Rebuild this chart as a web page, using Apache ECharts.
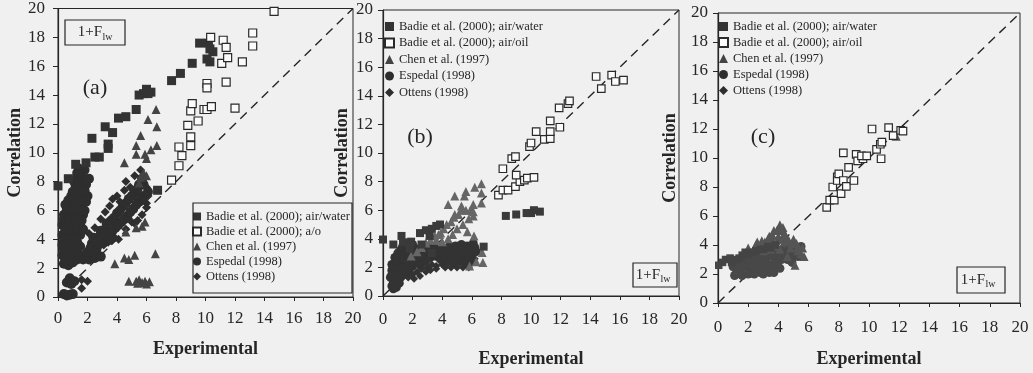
<!DOCTYPE html>
<html><head><meta charset="utf-8">
<script src="https://cdn.jsdelivr.net/npm/echarts@6/dist/echarts.min.js"></script>
<style>html,body{margin:0;padding:0;background:#f0f0f0}#c{width:1033px;height:373px}</style>
</head><body><div id="c"></div>
<script>
// ---------- axis / labels ----------
const axisMin = 0, axisMax = 20, tickStep = 2;
const xTitle = 'Experimental';
const yTitle = 'Correlation';
const panelLabels = ['(a)', '(b)', '(c)'];
const boxMain = '1+F', boxSub = 'lw';

// ---------- series names ----------
const nAW = 'Badie et al. (2000); air/water';
const nAOa = 'Badie et al. (2000); a/o';
const nAO = 'Badie et al. (2000); air/oil';
const nChen = 'Chen et al. (1997)';
const nEsp = 'Espedal (1998)';
const nOtt = 'Ottens (1998)';

// ---------- panel (a) ----------
const aBadieAW = [[0.0,7.7],[0.7,8.2],[1.2,9.2],[1.9,9.3],[2.3,11.0],[2.5,9.7],[2.8,9.7],[3.2,11.8],[3.4,10.6],[3.4,10.3],[3.7,11.4],[4.1,12.4],[4.6,12.5],[5.3,13.0],[5.5,14.0],[5.8,14.1],[6.0,14.4],[6.3,14.2],[6.1,14.1],[6.75,7.4],[7.7,15.0],[8.3,15.5],[9.1,16.2],[9.6,17.6],[10.2,17.6],[10.3,17.2],[10.1,16.5],[10.5,17.0],[10.3,16.3]];
const aBadieAO = [[7.7,8.1],[8.2,9.1],[8.4,9.8],[8.2,10.4],[8.8,11.9],[9.0,10.5],[9.0,11.1],[9.0,12.9],[9.1,13.4],[9.5,12.2],[9.9,13.0],[10.1,13.0],[10.1,14.8],[10.1,14.5],[10.4,13.2],[11.1,16.2],[10.35,18.0],[11.2,17.8],[11.4,17.3],[11.5,16.6],[11.4,14.9],[12.0,13.1],[12.5,16.3],[13.2,18.3],[13.2,17.4],[14.65,19.8]];
const aChen = [[4.5,9.3],[5.3,9.9],[5.3,10.5],[5.6,11.2],[6.1,12.3],[6.65,13.0],[6.7,11.8],[6.7,10.5],[6.3,10.2],[5.9,9.9],[6.0,9.6],[3.85,2.3],[4.5,2.7],[4.8,2.6],[5.2,2.9],[6.6,3.0],[4.8,1.1],[5.3,1.1],[5.5,1.2],[5.7,1.0],[5.9,1.1],[6.2,1.05],[5.4,0.95],[6.0,0.9],[4.6,4.5],[5.3,4.8],[5.7,4.9],[5.9,5.2],[5.6,8.3],[5.8,8.6],[5.5,7.9],[6.0,8.4]];
const aEspedal = [[0.4,0.2],[0.6,0.1],[0.8,0.15],[1.0,0.2],[0.6,1.0],[0.8,1.3],[0.9,0.9],[1.1,1.1],
  [0.4,2.3],[0.7,2.2],[1.0,2.4],[1.3,2.6],[1.7,2.6],[2.1,2.6],[2.5,2.7],[2.9,2.8],
  [0.3,2.9],[0.6,3.0],[0.9,3.1],[1.2,3.1],[0.3,3.6],[0.6,3.7],[1.0,3.6],[1.3,3.8],
  [0.3,4.3],[0.6,4.4],[0.9,4.3],[1.2,4.5],[1.5,4.3],[0.3,5.0],[0.6,5.1],[0.9,5.0],[1.2,5.2],[1.5,5.0],
  [0.4,5.7],[0.7,5.8],[1.0,5.6],[1.3,5.9],[1.7,5.7],[0.5,6.4],[0.9,6.3],[1.2,6.5],[1.6,6.4],
  [0.9,7.0],[1.2,7.1],[1.6,7.0],[2.0,7.0],[1.2,7.7],[1.5,7.7],[1.9,7.8],[1.3,8.3],[1.6,8.4],[2.1,8.2],[1.4,8.9],[1.8,8.8],
  [0.5,2.6],[0.8,2.7],[1.1,2.8],[1.5,2.9],[0.4,3.3],[0.8,3.4],[1.1,3.3],[1.5,3.5],[0.4,3.9],[0.8,4.0],[1.2,4.1],
  [0.5,4.7],[0.9,4.7],[1.3,4.8],[1.7,4.7],[0.4,5.4],[0.8,5.4],[1.2,5.4],[1.6,5.3],[0.6,6.1],[1.0,6.0],[1.4,6.1],[1.8,6.0],
  [0.7,6.7],[1.1,6.7],[1.5,6.7],[1.9,6.6],[1.0,7.3],[1.4,7.4],[1.8,7.4],[1.1,8.0],[1.5,8.0],[1.9,8.1],[1.5,8.6],[1.3,8.6],
  [2.0,3.1],[2.3,3.7],[2.6,3.3],[2.8,4.2],[3.1,3.8],[3.2,4.7],[3.5,4.4],[3.6,5.3],[3.9,4.8],[4.0,5.8],[4.3,5.2],[4.4,6.3],[4.7,5.6],[4.8,6.8],[5.1,6.1],[5.2,7.3],[5.5,6.6],[5.5,7.8],[5.8,7.0],[5.7,8.2],
  [2.2,3.4],[2.4,4.1],[2.7,3.7],[2.9,4.6],[3.0,4.2],[3.3,5.1],[3.4,4.0],[3.7,4.6],[3.8,5.5],[4.1,5.0],[4.2,6.0],[4.5,5.4],[4.6,6.5],[4.9,5.9],[5.0,7.0],[5.3,6.4],[5.4,7.5],[5.7,6.8],[5.8,7.8],[6.1,7.3]];
const aOttens = [[2.1,4.4],[2.5,4.8],[2.9,5.4],[3.2,5.9],[3.5,6.3],[3.7,6.8],[4.0,7.0],[4.2,6.6],[4.5,7.4],[4.6,8.0],[4.9,7.6],[5.2,8.4],[5.6,8.8],[6.0,7.6],[6.1,7.0],[6.0,6.5],
  [1.6,1.2],[1.6,0.6],[2.0,1.1],[2.4,3.1],[2.6,3.3],[2.8,3.5],[3.1,3.6],[3.4,3.8],[3.6,3.9],[3.85,4.1],[4.1,4.0],[4.6,4.7],[5.0,5.2],[5.2,5.1],[5.4,5.3],[5.7,5.7],[6.0,6.2],[5.8,6.7],[5.5,7.0]];

// ---------- panel (b) ----------
const bBadieAW = [[0.0,3.95],[0.7,3.6],[1.25,4.2],[1.35,3.75],[1.9,3.8],[1.8,3.3],[2.5,4.4],[2.9,4.6],[3.3,4.7],[3.6,4.9],[3.85,5.0],[3.15,4.2],[2.6,3.6],[3.3,3.0],[6.8,3.45],[8.3,5.6],[9.0,5.7],[9.7,5.8],[10.2,6.0],[10.6,5.9],[10.0,5.8]];
const bBadieAO = [[7.8,7.05],[8.1,7.4],[8.45,7.4],[8.95,7.65],[9.25,8.0],[9.55,8.1],[9.75,8.25],[10.2,8.3],[9.0,8.45],[8.1,8.9],[8.7,9.6],[8.95,9.75],[9.9,10.45],[10.0,10.7],[10.35,11.5],[10.9,10.95],[11.3,11.0],[11.3,11.5],[11.3,12.25],[11.95,11.8],[11.9,13.15],[12.5,13.45],[12.6,13.65],[14.4,15.35],[14.75,14.5],[15.45,15.45],[15.7,15.0],[16.25,15.1]];
const bChen = [[4.4,6.4],[4.85,7.0],[5.5,7.0],[5.6,7.3],[6.2,7.6],[6.65,7.85],[6.65,7.2],[6.65,6.5],[6.1,6.4],[4.85,5.7],[5.3,6.3],[5.6,6.0],[5.9,6.0],[6.1,5.6],[5.7,4.5],[6.15,4.2],[6.7,3.05],[6.75,2.35],[6.3,2.4],[5.85,2.1],[3.75,4.3],[3.6,3.9],
  [1.9,2.8],[2.3,3.1],[2.6,3.4],[2.9,3.7],[3.2,3.9],[3.5,4.2],[3.9,4.4],[4.1,4.7],[4.3,5.0],[4.6,5.2],[4.8,5.5],[5.1,5.7],[5.3,6.0],[4.0,3.8],[4.4,4.0],[4.7,4.3],[5.0,4.7],[5.4,5.0],[5.8,5.4],[6.1,5.9]];
const bEspedal = [[0.6,0.7],[0.9,0.6],[0.7,1.0],[1.1,0.9],[0.5,1.3],[0.8,1.4],[1.2,1.3],[0.6,1.8],[0.9,1.9],[1.3,1.8],[1.6,1.7],[0.6,2.2],[1.0,2.3],[1.3,2.4],[1.7,2.2],[2.0,2.1],[0.8,2.7],[1.1,2.8],[1.5,2.7],[1.9,2.6],[2.3,2.4],[1.2,3.2],[1.6,3.1],[2.0,3.0],[1.5,3.6],[1.9,3.5],[2.2,3.3],
  [0.7,0.5],[1.0,1.1],[0.6,1.5],[1.0,1.6],[1.4,1.5],[0.8,2.0],[1.2,2.0],[1.5,2.0],[1.8,1.9],[0.9,2.5],[1.3,2.6],[1.7,2.5],[2.1,2.4],[1.0,3.0],[1.4,2.9],[1.8,2.8],[2.2,2.8],[1.3,3.4],[1.7,3.3],[2.1,3.2],[1.7,3.7],[2.0,3.6],
  [2.6,2.6],[3.0,2.8],[3.4,3.0],[3.8,3.1],[4.2,3.2],[4.6,3.3],[5.0,3.2],[5.4,3.3],[5.8,3.2],[6.2,3.4],[2.8,3.3],[3.3,3.5],[4.0,2.7],[4.4,2.8],[4.8,2.6],[5.2,2.8],[5.6,2.7],[6.0,2.9],
  [2.5,2.2],[2.9,2.5],[3.2,2.7],[3.5,2.8],[3.9,2.9],[4.3,3.0],[4.7,3.0],[5.1,3.0],[5.5,3.0],[5.9,3.0],[6.3,3.1],[2.7,2.9],[3.1,3.1],[3.6,3.3],[4.0,3.4],[4.5,3.5],[4.9,3.5],[5.3,3.6],[5.7,3.5],[6.1,3.7],[4.2,2.5],[5.0,2.5],[5.8,2.6]];
const bOttens = [[1.7,1.3],[2.0,1.5],[2.3,1.7],[2.6,1.9],[3.0,2.0],[3.3,2.2],[3.6,2.1],[4.0,2.2],[4.4,2.3],[4.8,2.2],[5.2,2.3],[5.6,2.2],[6.0,2.3],[2.8,2.3],[3.8,2.5],[4.6,2.5],[5.4,2.5],[6.2,2.6],
  [2.1,1.2],[2.5,1.4],[2.9,1.7],[3.2,1.8],[3.6,1.9],[4.2,2.0],[4.6,2.0],[5.0,2.0],[5.4,2.0],[5.8,2.0]];

// ---------- panel (c) ----------
const cBadieAW = [[0.05,2.6],[0.5,3.0],[0.8,3.1],[1.2,3.0],[1.6,3.3],[2.0,3.4],[2.5,3.6],[3.0,3.7],[3.5,3.8],
  [0.3,2.8],[0.9,2.8],[1.4,3.1],[1.8,3.5],[2.3,3.5],[2.8,3.7],[3.3,3.9],[3.8,4.0]];
const cBadieAO = [[7.2,6.6],[7.4,7.1],[7.7,7.1],[7.6,8.0],[7.9,8.7],[7.9,8.45],[8.0,8.9],[8.15,7.55],[8.3,8.45],[8.5,8.05],[8.3,10.35],[8.65,9.35],[9.0,8.45],[9.15,10.25],[9.25,9.8],[9.6,9.95],[9.5,10.15],[9.85,10.15],[10.2,12.0],[10.5,10.6],[10.75,10.95],[10.8,9.95],[10.85,11.1],[11.3,12.1],[11.6,11.55],[12.1,11.9],[12.25,11.85]];
const cChen = [[2.0,3.8],[2.5,4.0],[3.1,4.2],[3.5,4.4],[3.6,4.7],[3.9,5.0],[4.1,5.4],[4.3,5.0],[4.5,4.6],[4.7,4.3],[4.9,4.1],[5.1,2.6],[5.5,3.4],[5.7,3.2],[5.3,3.6],[4.6,3.2],[11.8,11.5],
  [2.3,3.6],[2.8,3.8],[3.2,3.9],[3.4,4.0],[3.7,4.2],[4.0,4.6],[4.2,4.4],[4.4,4.2],[3.8,3.9],[4.1,3.7],[4.8,3.8],[5.3,3.9],[5.6,3.8],[5.0,4.4],[5.2,4.1],[4.3,5.2],[3.5,3.7],[3.0,3.6],
  [2.6,4.2],[3.3,4.4],[3.7,5.0],[4.0,5.1],[4.4,4.8],[4.6,4.4],[3.4,4.6],[2.9,4.3]];
const cEspedal = [[1.2,2.0],[1.5,2.3],[1.8,2.5],[2.1,2.2],[2.4,2.6],[2.7,2.4],[3.0,2.8],[3.3,2.3],[3.5,2.6],[3.8,2.9],[2.2,3.0],[2.6,3.1],[3.1,3.2],[3.6,3.3],[4.0,3.3],[4.4,3.5],[4.8,3.6],[5.2,3.8],[5.5,3.9],
  [1.4,2.6],[1.9,2.8],[2.3,2.5],[2.6,2.8],[2.9,2.5],[3.2,2.9],[3.6,2.5],[3.9,2.6],[4.2,3.0],[4.6,3.0],[5.0,3.2],[1.7,3.0],[2.4,3.3],[2.8,3.4],[3.3,3.3],[3.8,3.4],[4.3,3.2],[1.0,2.5],[1.3,2.2],[2.0,2.0],[2.8,2.1],[3.4,2.1],
  [1.1,1.9],[1.6,1.9],[2.4,2.0],[3.0,2.0],[3.7,2.1],[4.1,2.4],[4.9,2.8],[5.3,3.2]];
const cOttens = [[1.5,2.8],[2.0,2.9],[2.9,3.0],[3.3,3.5],[3.8,3.6],[4.2,3.8],[4.6,3.9],[5.0,4.0],[4.0,4.2],[3.0,4.0],
  [1.1,2.9],[1.8,3.2],[2.5,3.4],[3.0,3.3],[3.5,3.2],[4.0,3.1],[4.5,3.3],[4.9,3.3]];

const diagonal = [[axisMin, axisMin], [axisMax, axisMax]];

// ---------- build ----------
const serif = 'Liberation Serif, Times New Roman, serif';
const ink = '#262626';
const grids = [
  {left: 58, top: 8, width: 295, height: 289},
  {left: 383, top: 10, width: 296, height: 291},
  {left: 718, top: 13, width: 302, height: 292}
];
const xNameGap = [43, 54, 47];
const yNameGap = [34, 32, 39];
const xLabelMargin = [13, 15, 16];
const yLabelMargin = [13, 10, 10];

function xAxisFor(i) {
  return {gridIndex: i, type: 'value', min: axisMin, max: axisMax, interval: tickStep,
    name: xTitle, nameLocation: 'middle', nameGap: xNameGap[i],
    nameTextStyle: {fontFamily: serif, fontWeight: 'bold', fontSize: 18, color: ink},
    axisLine: {show: true, lineStyle: {color: ink, width: 1.2}},
    axisTick: {show: true, inside: false, length: 4, lineStyle: {color: ink}},
    axisLabel: {fontFamily: serif, fontSize: 17, color: ink, margin: xLabelMargin[i]},
    splitLine: {show: false}};
}
function yAxisFor(i) {
  return {gridIndex: i, type: 'value', min: axisMin, max: axisMax, interval: tickStep,
    name: yTitle, nameLocation: 'middle', nameGap: yNameGap[i],
    nameTextStyle: {fontFamily: serif, fontWeight: 'bold', fontSize: 18, color: ink},
    axisLine: {show: true, lineStyle: {color: ink, width: 1.2}},
    axisTick: {show: true, inside: false, length: 5, lineStyle: {color: ink}},
    axisLabel: {fontFamily: serif, fontSize: 17, color: ink, margin: yLabelMargin[i]},
    splitLine: {show: false}};
}

function sc(i, name, data, symbol, color, size, open) {
  const itemStyle = open ? {color: '#fbfbfb', borderColor: '#2a2a2a', borderWidth: 1.2, opacity: 1} : {color, opacity: 1};
  return {type: 'scatter', name, xAxisIndex: i, yAxisIndex: i, data, symbol,
    symbolSize: size, itemStyle, silent: true, animation: false};
}
function diag(i) {
  return {type: 'line', name: 'diag' + i, xAxisIndex: i, yAxisIndex: i, data: diagonal, symbol: 'none',
    lineStyle: {color: ink, width: 1.4, type: [9, 6]}, silent: true, animation: false, z: 1};
}

const series = [
  diag(0), diag(1), diag(2),
  sc(0, nEsp, aEspedal, 'circle', '#2e2e2e', 10), sc(0, nOtt, aOttens, 'diamond', '#2e2e2e', 9), sc(0, nChen, aChen, 'triangle', '#444', 9),
  sc(0, nAW, aBadieAW, 'rect', '#333', 9), sc(0, nAOa, aBadieAO, 'rect', null, 8, true),
  sc(1, nEsp, bEspedal, 'circle', '#333', 9), sc(1, nOtt, bOttens, 'diamond', '#333', 8), sc(1, nChen, bChen, 'triangle', '#666', 9),
  sc(1, nAW, bBadieAW, 'rect', '#3a3a3a', 8), sc(1, nAO, bBadieAO, 'rect', null, 7.5, true),
  sc(2, nEsp, cEspedal, 'circle', '#484848', 9), sc(2, nOtt, cOttens, 'diamond', '#484848', 8), sc(2, nChen, cChen, 'triangle', '#555', 9),
  sc(2, nAW, cBadieAW, 'rect', '#444', 7.5), sc(2, nAO, cBadieAO, 'rect', null, 7.5, true)
];

function legendFor(left, top, gap, size, names) {
  return {orient: 'vertical', left, top, padding: 0, itemGap: gap, itemWidth: size, itemHeight: size,
    selectedMode: false, data: names,
    textStyle: {fontFamily: serif, fontSize: 12.5, color: ink, lineHeight: 13}};
}
const legends = [
  legendFor(192, 210, 2, 8, [nAW, nAOa, nChen, nEsp, nOtt]),
  legendFor(384, 20, 3.5, 9, [nAW, nAO, nChen, nEsp, nOtt]),
  legendFor(718, 20, 3, 9, [nAW, nAO, nChen, nEsp, nOtt])
];

function fBox(x, y, w, h, split) {
  const cx = x + w / 2, cy = y + h / 2;
  return [
    {type: 'rect', shape: {x, y, width: w, height: h}, style: {fill: 'transparent', stroke: ink, lineWidth: 1.2}, z: 10},
    {type: 'text', x: cx + split, y: cy, z: 11,
      style: {text: boxMain, font: '15px ' + serif, fill: ink, textAlign: 'right', textVerticalAlign: 'middle'}},
    {type: 'text', x: cx + split + 0.5, y: cy + 4.5, z: 11,
      style: {text: boxSub, font: '10px ' + serif, fill: ink, textAlign: 'left', textVerticalAlign: 'middle'}}
  ];
}
const graphic = [
  {type: 'rect', shape: {x: 193, y: 203, width: 159, height: 90}, style: {fill: 'transparent', stroke: ink, lineWidth: 1.2}, z: 10},
  {type: 'text', x: 95, y: 88, style: {text: panelLabels[0], font: '22px ' + serif, fill: ink, textAlign: 'center', textVerticalAlign: 'middle'}},
  {type: 'text', x: 420, y: 137, style: {text: panelLabels[1], font: '22px ' + serif, fill: ink, textAlign: 'center', textVerticalAlign: 'middle'}},
  {type: 'text', x: 763, y: 137, style: {text: panelLabels[2], font: '22px ' + serif, fill: ink, textAlign: 'center', textVerticalAlign: 'middle'}},
  ...fBox(65, 20, 60, 25, 7),
  ...fBox(633, 263, 44, 24, 5),
  ...fBox(957, 267, 48, 26, 4)
];

const chart = echarts.init(document.getElementById('c'), null, {renderer: 'canvas'});
chart.setOption({
  backgroundColor: '#f0f0f0',
  animation: false,
  grid: grids.map(g => Object.assign({show: true, borderColor: ink, borderWidth: 1, backgroundColor: 'transparent'}, g)),
  xAxis: [0, 1, 2].map(xAxisFor),
  yAxis: [0, 1, 2].map(yAxisFor),
  legend: legends,
  series,
  graphic
});
</script></body></html>
